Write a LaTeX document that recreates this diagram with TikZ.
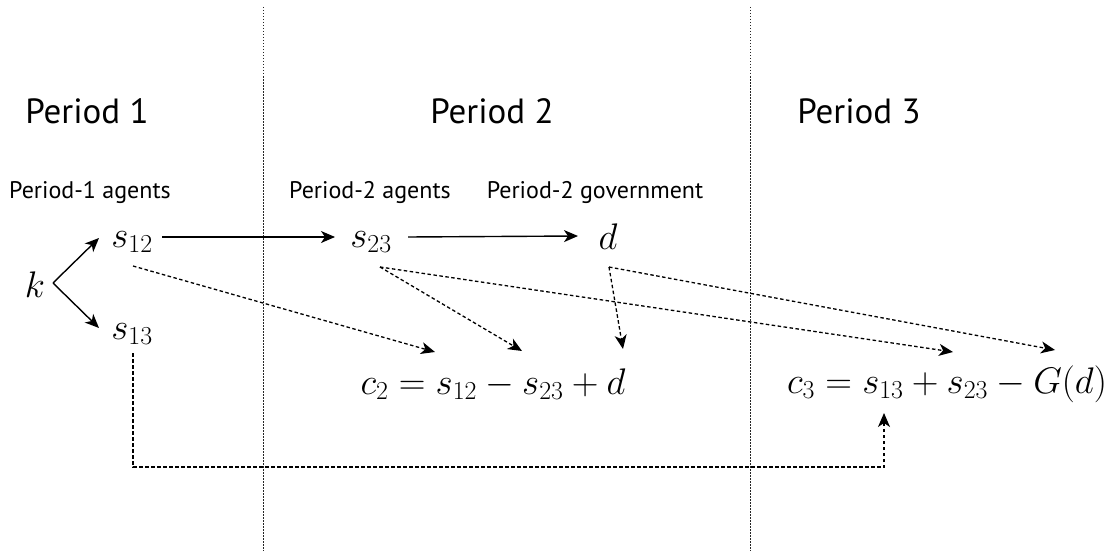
\RequirePackage{fix-cm}
\documentclass[tikz,border=0pt]{standalone}
\usepackage{fontspec}
\setsansfont{PT Sans}
\usetikzlibrary{arrows.meta}
\tikzset{
  periodtitle/.style={font=\sffamily\fontsize{35}{40}\selectfont,anchor=base},
  agentlabel/.style={font=\sffamily\fontsize{24}{28}\selectfont,anchor=base},
  mathterm/.style={font=\fontsize{37}{42}\selectfont,inner sep=0pt,anchor=base},
  perioddivider/.style={line width=1pt,dash pattern=on 1.5pt off 1.5pt,black!85},
  flowarrow/.style={-{Stealth[length=14pt,width=12pt,inset=4pt]},line width=1.4pt},
  useslink/.style={-{Stealth[length=14pt,width=12pt,inset=4pt]},line width=1.3pt,dash pattern=on 3.5pt off 2.5pt},
}

\begin{document}
\begin{tikzpicture}[x=1pt,y=-1pt]
  \useasboundingbox (0,0) rectangle (1117,551);
  \draw[perioddivider] (263,7)--(263,551);
  \draw[perioddivider] (750,7)--(750,551);

  \node[periodtitle] (p1) at (87,123) {Period 1};
  \node[periodtitle] (p2) at (492,123) {Period 2};
  \node[periodtitle] (p3) at (859,123) {Period 3};
  \node[agentlabel] (a1) at (90,198) {Period-1 agents};
  \node[agentlabel] (a2) at (370,198) {Period-2 agents};
  \node[agentlabel] (g2) at (595,198) {Period-2 government};

  \node[mathterm] (k) at (35,297) {$k$};
  \node[mathterm] (s12) at (132,247) {$s_{12}$};
  \node[mathterm] (s13) at (132,339) {$s_{13}$};
  \node[mathterm] (s23) at (371,247) {$s_{23}$};
  \node[mathterm] (d) at (608,249) {$d$};
  \node[mathterm] (c2) at (493,394) {$c_2 = s_{12} - s_{23} + d$};
  \node[mathterm] (c3) at (947,393) {$c_3 = s_{13} + s_{23} - G(d)$};
  \coordinate (s13turn) at (884,467);

  \draw[flowarrow] ([shift={(18,-14)}]k.base) -- ([shift={(-33,-9)}]s12.base);
  \draw[flowarrow] ([shift={(18,-14)}]k.base) -- ([shift={(-33,-11)}]s13.base);
  \draw[flowarrow] ([shift={(30,-10)}]s12.base) -- ([shift={(-36,-10)}]s23.base);
  \draw[flowarrow] ([shift={(37,-10)}]s23.base) -- ([shift={(-30,-13)}]d.base);

  \draw[useslink] ([shift={(1,19)}]s12.base) -- ([shift={(-58,-42)}]c2.base);
  \draw[useslink] ([shift={(9,20)}]s23.base) -- ([shift={(29,-43)}]c2.base);
  \draw[useslink] ([shift={(9,20)}]s23.base) -- ([shift={(6,-41)}]c3.base);
  \draw[useslink] ([shift={(1,18)}]d.base) -- ([shift={(130,-45)}]c2.base);
  \draw[useslink] ([shift={(1,18)}]d.base) -- ([shift={(108,-43)}]c3.base);
  \draw[useslink] ([shift={(1,14)}]s13.base) |- (s13turn) -- ([shift={(-63,20)}]c3.base);
\end{tikzpicture}
\end{document}
